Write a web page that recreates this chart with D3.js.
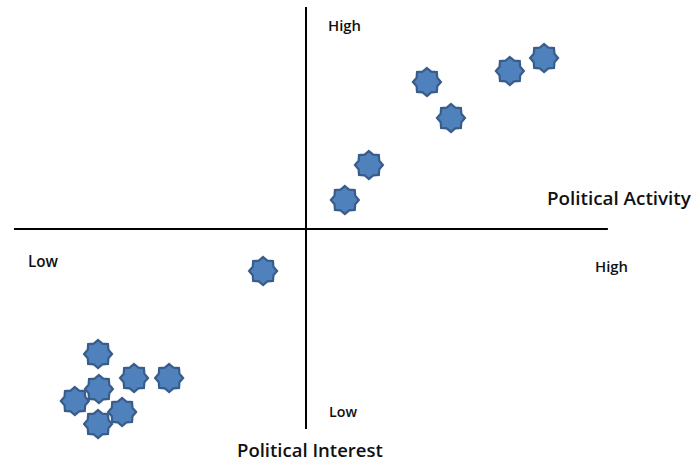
<!DOCTYPE html>
<html>
<head>
<meta charset="utf-8">
<script src="https://cdn.jsdelivr.net/npm/d3@7"></script>
<style>
  html, body { margin: 0; padding: 0; background: #fff; }
  text { font-family: "Open Sans", Lato, sans-serif; fill: #111; }
</style>
</head>
<body>
<div id="chart"></div>
<script>
let width = 694, height = 461;

// political interest (x) and political activity (y), origin where the axes cross
let interest = [1.34, 2.17, 4.17, 5.0, 7.03, 8.21, -1.48, -7.17, -5.93, -4.72, -7.14, -7.97, -6.34, -7.17];
let activity = [1.45, 3.2, 7.35, 5.55, 7.9, 8.55, -2.1, -6.25, -7.45, -7.45, -8.0, -8.6, -9.15, -9.75];

// extent of the two crossing axis lines
let xAxisExtent = [-10.07, 10.41];
let yAxisExtent = [-10, 11.1];

let points = interest.map(function(d, i) { return {x: d, y: activity[i]}; });

let x = d3.scaleLinear().domain([-10, 10]).range([16, 596]);
let y = d3.scaleLinear().domain([-10, 10]).range([429, 29]);

let svg = d3.select("#chart")
    .append("svg")
    .attr("width", width)
    .attr("height", height);

// horizontal line (activity axis)
svg.append("line")
    .attr("x1", x(xAxisExtent[0]))
    .attr("x2", x(xAxisExtent[1]))
    .attr("y1", y(0))
    .attr("y2", y(0))
    .attr("stroke", "#000")
    .attr("stroke-width", 2);

// vertical line (interest axis)
svg.append("line")
    .attr("x1", x(0))
    .attr("x2", x(0))
    .attr("y1", y(yAxisExtent[1]))
    .attr("y2", y(yAxisExtent[0]))
    .attr("stroke", "#000")
    .attr("stroke-width", 2);

// 8 pointed star
let star = d3.symbol().type({
    draw: function(context, size) {
        let R = 14, r = 11.2;
        for (let i = 0; i < 16; i++) {
            let a = i * Math.PI / 8 - Math.PI / 2;
            let rad = i % 2 === 0 ? R : r;
            let px = rad * Math.cos(a), py = rad * Math.sin(a);
            if (i === 0) context.moveTo(px, py); else context.lineTo(px, py);
        }
        context.closePath();
    }
});

svg.append("g")
    .selectAll("path")
    .data(points)
    .enter()
    .append("path")
    .attr("d", star)
    .attr("transform", function(d) { return `translate(${x(d.x)}, ${y(d.y)})`; })
    .attr("fill", "#4f81bd")
    .attr("stroke", "#385d8a")
    .attr("stroke-width", 2.2)
    .attr("stroke-linejoin", "miter");

// w = width the label takes in the picture, size is fitted to it
let labels = [
    {t: "High", x: 328, y: 31, size: 13, w: 600, fit: 33},
    {t: "Low", x: 28, y: 267, size: 13, w: 600, fit: 30},
    {t: "High", x: 595, y: 272, size: 13, w: 600, fit: 33},
    {t: "Low", x: 329, y: 417, size: 13, w: 600, fit: 28},
    {t: "Political Activity", x: 547, y: 205, size: 17, w: 600, fit: 144},
    {t: "Political Interest", x: 237, y: 457, size: 17, w: 600, fit: 146}
];

svg.selectAll(".lbl")
    .data(labels)
    .enter()
    .append("text")
    .attr("class", "lbl")
    .attr("x", function(d) { return d.x; })
    .attr("y", function(d) { return d.y; })
    .style("font-size", function(d) { return d.size + "px"; })
    .style("font-weight", function(d) { return d.w; })
    .text(function(d) { return d.t; })
    .each(function(d) {
        let len = this.getComputedTextLength();
        if (len > 0) d3.select(this).style("font-size", (d.size * d.fit / len) + "px");
    });
</script>
</body>
</html>
